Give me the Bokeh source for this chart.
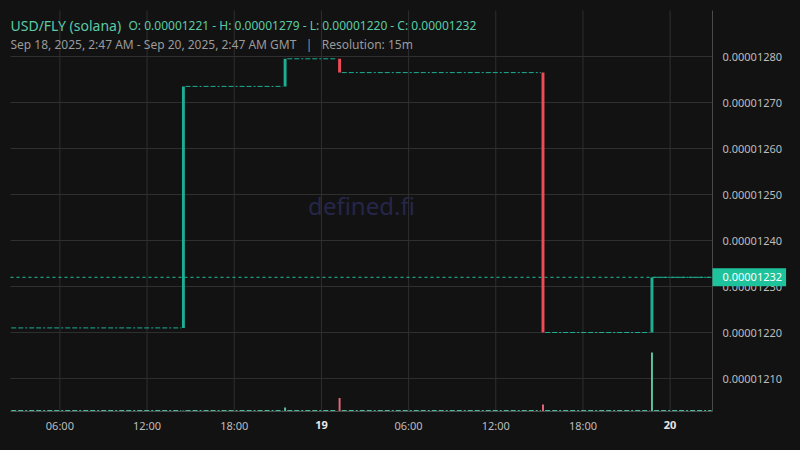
import pandas as pd
from bokeh.plotting import figure
from bokeh.models import (Range1d, FixedTicker, CustomJSTickFormatter, PrintfTickFormatter,
                          Label, ColumnDataSource)
from bokeh.embed import file_html
from bokeh.resources import INLINE

# ---------------- data ----------------
candle_time = ["2025-09-18 14:30", "2025-09-18 21:30", "2025-09-19 01:15",
               "2025-09-19 15:15", "2025-09-19 22:45"]
candle_open = [0.00001221, 0.000012735, 0.000012795, 0.000012765, 0.00001220]
candle_close = [0.000012735, 0.000012795, 0.000012765, 0.00001220, 0.00001232]
candle_volume = [0.1, 0.4, 1.35, 0.7, 5.9]

flat_start = ["2025-09-18 02:45", "2025-09-18 14:45", "2025-09-18 21:45",
              "2025-09-19 01:30", "2025-09-19 15:30", "2025-09-19 23:00"]
flat_end = ["2025-09-18 14:15", "2025-09-18 21:15", "2025-09-19 01:00",
            "2025-09-19 15:00", "2025-09-19 22:30", "2025-09-20 02:45"]
flat_price = [0.00001221, 0.000012735, 0.000012795, 0.000012765, 0.00001220, 0.00001232]
flat_volume = [0.1, 0.1, 0.1, 0.1, 0.1, 0.1]

price_ticks = [0.00001210, 0.00001220, 0.00001230, 0.00001240,
               0.00001250, 0.00001260, 0.00001270, 0.00001280]
time_ticks = ["2025-09-18 06:00", "2025-09-18 12:00", "2025-09-18 18:00",
              "2025-09-19 00:00", "2025-09-19 06:00", "2025-09-19 12:00",
              "2025-09-19 18:00", "2025-09-20 00:00"]
day_ticks = ["2025-09-19 00:00", "2025-09-20 00:00"]
day_labels = ["19", "20"]

x_start, x_end = "2025-09-18 02:36", "2025-09-20 02:55"
y_start, y_end = 0.0000120283, 0.0000129
vol_end = 40.1

title_pair = "USD/FLY (solana)"
title_ohlc = "O: 0.00001221 - H: 0.00001279 - L: 0.00001220 - C: 0.00001232"
subtitle = "Sep 18, 2025, 2:47 AM - Sep 20, 2025, 2:47 AM GMT\u00a0\u00a0\u00a0|\u00a0\u00a0\u00a0Resolution: 15m"
watermark = "defined.fi"

# ---------------- layout (pixels) ----------------
W, H = 800, 450
PL, PR, PT, PB = 10, 712, 10, 411   # plot area inside the canvas


def ms(s):
    return pd.Timestamp(s).value / 1e6


MIN = 60 * 1000
BG = "#121212"
GRID = "#2f2f2f"
GREEN = "#1daf93"
RED = "#ef4a58"
VGREEN = "#5cc4a6"
VRED = "#e7687a"
FONT = "Noto Sans"

xs, xe = ms(x_start), ms(x_end)
kx = (xe - xs) / (PR - PL)
ky = (y_end - y_start) / (PB - PT)
kv = vol_end / (PB - PT)

ct = [ms(t) for t in candle_time]
up = [c >= o for o, c in zip(candle_open, candle_close)]
candles = ColumnDataSource(dict(
    x=ct,
    top=[max(o, c) for o, c in zip(candle_open, candle_close)],
    bottom=[min(o, c) for o, c in zip(candle_open, candle_close)],
    color=[GREEN if u else RED for u in up],
    vcolor=[VGREEN if u else VRED for u in up],
    vol=candle_volume,
))
flats = ColumnDataSource(dict(
    x0=[ms(t) - 6 * MIN for t in flat_start],
    x1=[ms(t) + 6 * MIN for t in flat_end],
    y=flat_price,
    v=flat_volume,
))

p = figure(width=W, height=H,
           x_range=Range1d(xs - PL * kx, xe + (W - PR) * kx),
           y_range=Range1d(y_start - (H - PB) * ky, y_end + PT * ky),
           y_axis_location="right",
           output_backend="svg", toolbar_location=None, min_border=0,
           background_fill_color=BG, border_fill_color=BG, outline_line_color=None)
p.extra_y_ranges = {"vol": Range1d(-(H - PB) * kv, vol_end + PT * kv)}
p.grid.visible = False

# grid lines (limited to the plot area)
tt = [ms(t) for t in time_ticks]
p.segment(x0=tt, x1=tt, y0=[y_start] * len(tt), y1=[y_end] * len(tt),
          line_color=GRID, line_width=1)
p.segment(x0=[xs] * len(price_ticks), x1=[xe] * len(price_ticks), y0=price_ticks, y1=price_ticks,
          line_color=GRID, line_width=1)

# volume
p.segment(x0="x0", x1="x1", y0="v", y1="v", source=flats, y_range_name="vol",
          line_color="#4cb89b", line_width=1, line_dash="5 2 5 2 2 2")
p.vbar(x="x", width=8 * MIN, top="vol", bottom=0, source=candles, y_range_name="vol",
       fill_color="vcolor", line_color=None)

# last price line
p.segment(x0=[xs], x1=[xe], y0=[candle_close[-1]], y1=[candle_close[-1]],
          line_color="#20c39b", line_width=1, line_dash="3 3")

# flat candles
p.segment(x0="x0", x1="x1", y0="y", y1="y", source=flats,
          line_color=GREEN, line_width=1, line_dash="5 2 5 2 2 2")
# moving candles
p.vbar(x="x", width=12 * MIN, top="top", bottom="bottom", source=candles,
       fill_color="color", line_color=None)

# axes, pinned at the plot area's edges
ya = p.yaxis[0]
ya.fixed_location = xe
ya.bounds = (y_start, y_end)
ya.ticker = FixedTicker(ticks=price_ticks)
ya.formatter = PrintfTickFormatter(format="%.8f")
xa = p.xaxis[0]
xa.fixed_location = y_start
xa.bounds = (xs, xe)
xa.ticker = FixedTicker(ticks=tt)
xa.formatter = CustomJSTickFormatter(code="""
const d = new Date(tick);
const h = d.getUTCHours();
if (h == 0) { return ""; }
return String(h).padStart(2, "0") + ":" + String(d.getUTCMinutes()).padStart(2, "0");
""")
for ax in (xa, ya):
    ax.axis_line_color = "#4a4a4a"
    ax.major_tick_line_color = None
    ax.minor_tick_line_color = None
    ax.major_tick_out = 0
    ax.major_tick_in = 0
    ax.major_label_text_color = "#bdbdbd"
    ax.major_label_text_font = FONT
    ax.major_label_text_font_size = "11px"
ya.major_label_standoff = 10
xa.major_label_standoff = 6

# bold day labels
for t, lab in zip(day_ticks, day_labels):
    p.add_layout(Label(x=ms(t), y=H - 424, y_units="screen", text=lab,
                       text_font=FONT, text_font_size="11px", text_font_style="bold",
                       text_color="#e6e6e6", text_align="center", text_baseline="middle"))

# header
p.add_layout(Label(x=10, y=H - 25, x_units="screen", y_units="screen", text=title_pair,
                   text_font=FONT, text_font_size="14px", text_color="#5dcaa5",
                   text_baseline="alphabetic"))
p.add_layout(Label(x=128, y=H - 25, x_units="screen", y_units="screen", text=title_ohlc,
                   text_font=FONT, text_font_size="12px", text_color="#5dcaa5",
                   text_baseline="alphabetic"))
p.add_layout(Label(x=10, y=H - 44, x_units="screen", y_units="screen", text=subtitle,
                   text_font=FONT, text_font_size="12px", text_color="#9a9a9a",
                   text_baseline="alphabetic"))

# watermark
p.add_layout(Label(x=(PL + PR) / 2, y=H - 205, x_units="screen", y_units="screen", text=watermark,
                   text_font=FONT, text_font_size="24px", text_color="#26264a",
                   text_align="center", text_baseline="middle", level="underlay"))

# last price tag
p.add_layout(Label(x=PR, y=candle_close[-1], x_units="screen",
                   text="%.8f" % candle_close[-1],
                   text_font=FONT, text_font_size="11px", text_color="#ffffff",
                   text_baseline="middle", text_align="left",
                   background_fill_color="#1ec39b",
                   padding=(10, 4, 5, 5)))

html = file_html(p, INLINE)
html = html.replace("</head>", "<style>html,body{background:%s;}</style></head>" % BG, 1)
open("out.html", "w").write(html)
